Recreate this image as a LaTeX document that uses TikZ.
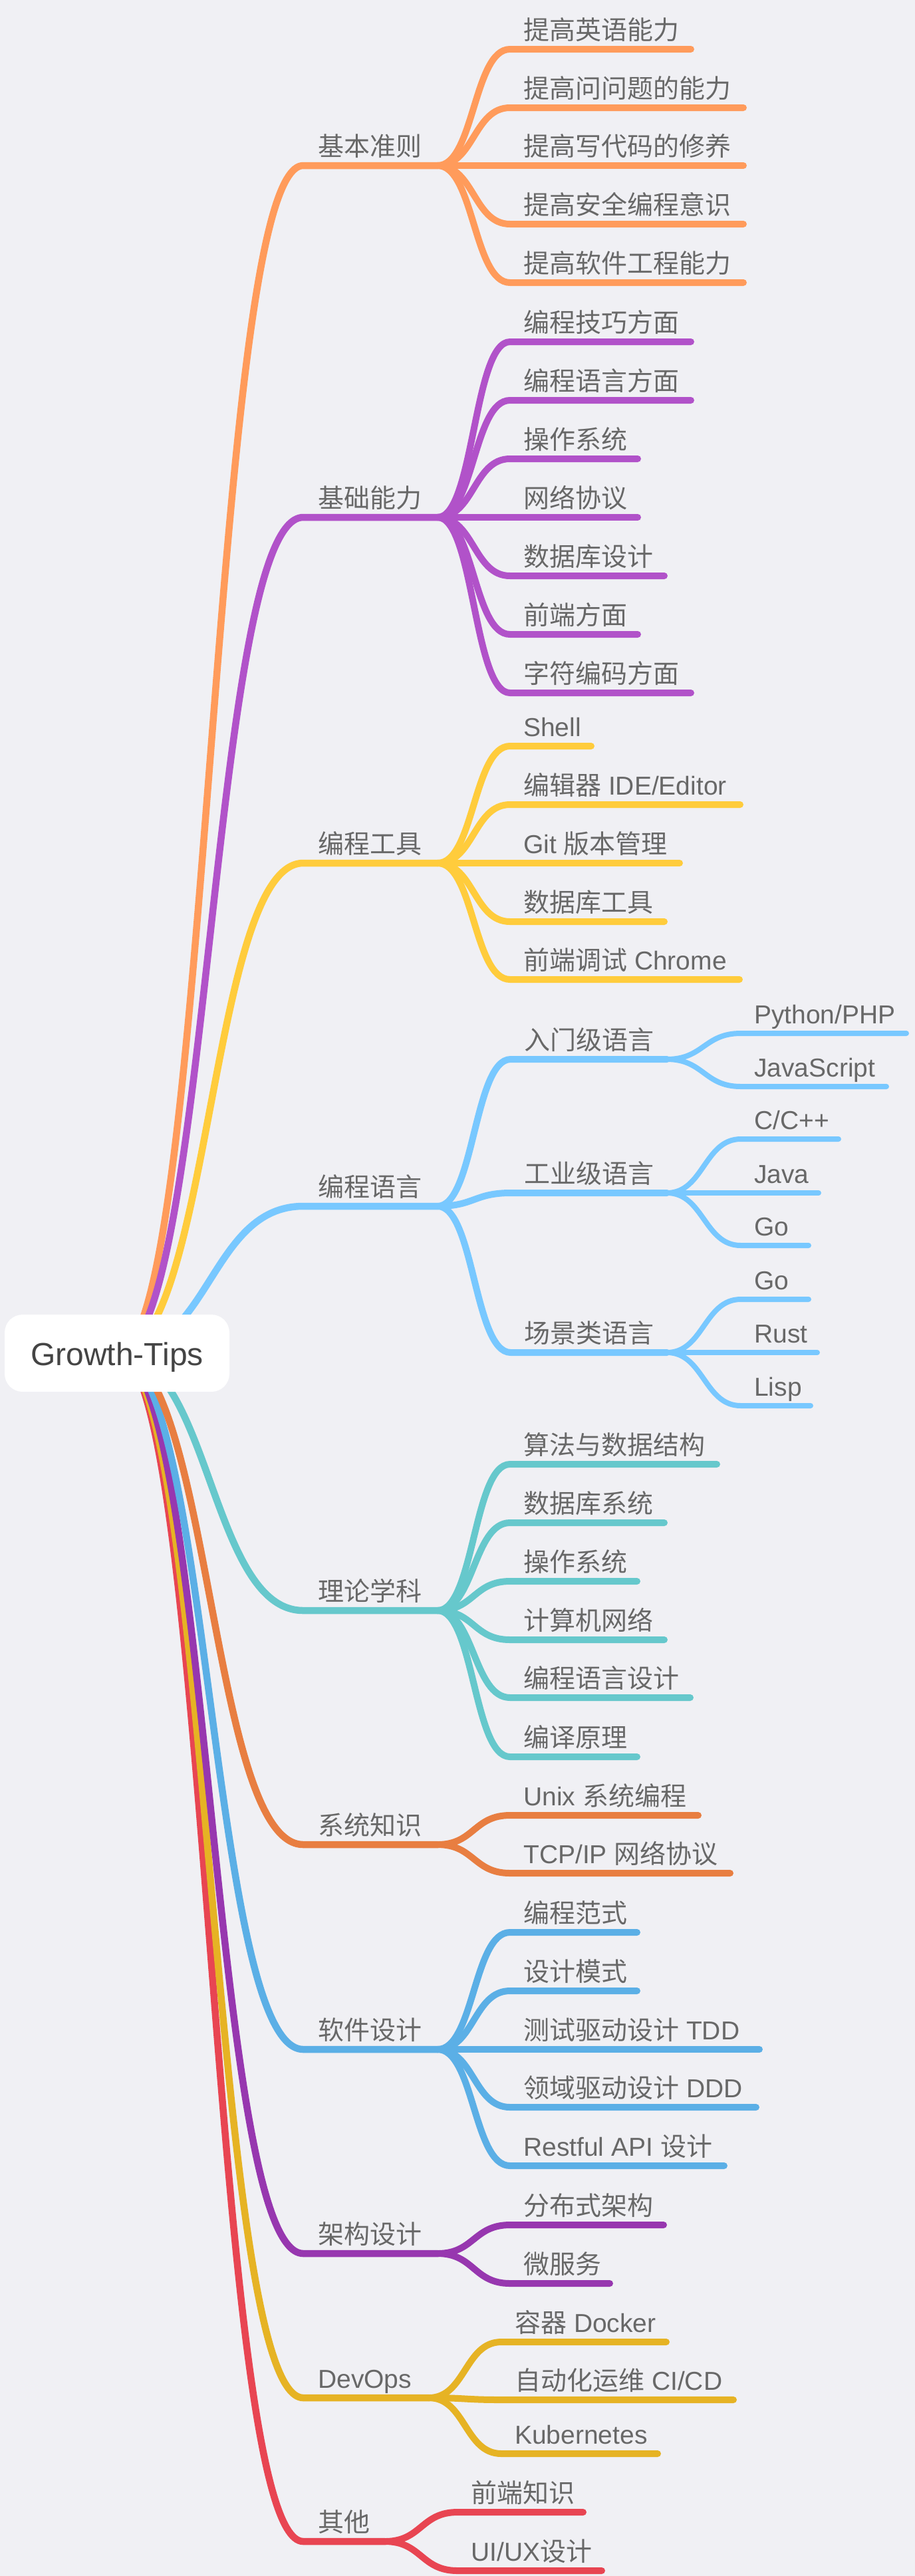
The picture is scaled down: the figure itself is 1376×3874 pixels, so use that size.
\documentclass[tikz,border=0pt]{standalone}
\usepackage{fontspec}
\setmainfont{Liberation Sans}
\newfontfamily\cjkfont{Noto Sans CJK SC}
\newcommand{\zh}[1]{{\cjkfont #1}}
\newcommand{\lblfont}{\fontsize{39pt}{47pt}\selectfont}
\newcommand{\rootfont}{\fontsize{48pt}{58pt}\selectfont}
\definecolor{bg}{HTML}{F0F0F4}
\definecolor{txt}{HTML}{686868}
\definecolor{roottxt}{HTML}{444444}
\definecolor{c0}{HTML}{FF9B5B}
\definecolor{c1}{HTML}{B152C9}
\definecolor{c2}{HTML}{FFCC3C}
\definecolor{c3}{HTML}{78C8FF}
\definecolor{c4}{HTML}{66C8CC}
\definecolor{c5}{HTML}{E87E41}
\definecolor{c6}{HTML}{5BAFE6}
\definecolor{c7}{HTML}{9737AF}
\definecolor{c8}{HTML}{E6B324}
\definecolor{c9}{HTML}{E84552}
\tikzset{
  branch/.style={line width=10.5pt, line cap=round, line join=round},
  twig/.style={line width=10pt, line cap=round, line join=round},
  sprig/.style={line width=8pt, line cap=round, line join=round},
  lbl/.style={anchor=base west, inner sep=0pt, text=txt, font=\lblfont},
  rootbox/.style={fill=white, rounded corners=27pt, minimum width=338pt, minimum height=116pt,
    inner sep=0pt, text=roottxt, font=\rootfont, text height=36pt, text depth=0pt},
}
% main branch: #1 name, #2 colour, #3 y, #4 right end x, #5 text
\newcommand\mmmain[5]{%
  \coordinate (#1L) at (456,#3);
  \coordinate (#1R) at (#4,#3);
  \draw[branch,#2] (rootc) .. controls +(140,0) and +(-140,0) .. (#1L) -- (#1R);
  \node[lbl] (#1) at (478,#3-15) {#5};
}
% child: #1 name, #2 style, #3 parent name, #4 line start x, #5 y, #6 visible right end x, #7 text
\newcommand\mmchild[7]{%
  \coordinate (#1L) at (#4,#5);
  \coordinate (#1R) at (#6-5,#5);
  \draw[#2] (#3R) .. controls +(55,0) and +(-55,0) .. (#1L) -- (#1R);
  \node[lbl] (#1) at (#4+20,#5-15) {#7};
}
\begin{document}
\begin{tikzpicture}[x=1pt,y=-1pt]
\useasboundingbox (0,0) rectangle (1376,3874);
\fill[bg] (0,0) rectangle (1376,3874);
\coordinate (rootc) at (176,2035);

% 基本准则
\mmmain{a}{c0}{249}{658}{\zh{基本准则}}
\mmchild{a1}{twig,c0}{a}{767}{74}{1044}{\zh{提高英语能力}}
\mmchild{a2}{twig,c0}{a}{767}{162}{1123}{\zh{提高问问题的能力}}
\mmchild{a3}{twig,c0}{a}{767}{249}{1123}{\zh{提高写代码的修养}}
\mmchild{a4}{twig,c0}{a}{767}{337}{1123}{\zh{提高安全编程意识}}
\mmchild{a5}{twig,c0}{a}{767}{425}{1123}{\zh{提高软件工程能力}}

% 基础能力
\mmmain{b}{c1}{778}{658}{\zh{基础能力}}
\mmchild{b1}{twig,c1}{b}{767}{514}{1044}{\zh{编程技巧方面}}
\mmchild{b2}{twig,c1}{b}{767}{602}{1044}{\zh{编程语言方面}}
\mmchild{b3}{twig,c1}{b}{767}{690}{964}{\zh{操作系统}}
\mmchild{b4}{twig,c1}{b}{767}{778}{964}{\zh{网络协议}}
\mmchild{b5}{twig,c1}{b}{767}{866}{1004}{\zh{数据库设计}}
\mmchild{b6}{twig,c1}{b}{767}{954}{964}{\zh{前端方面}}
\mmchild{b7}{twig,c1}{b}{767}{1042}{1044}{\zh{字符编码方面}}

% 编程工具
\mmmain{c}{c2}{1298}{658}{\zh{编程工具}}
\mmchild{c1n}{twig,c2}{c}{767}{1122}{894}{Shell}
\mmchild{c2n}{twig,c2}{c}{767}{1210}{1118}{\zh{编辑器} IDE/Editor}
\mmchild{c3n}{twig,c2}{c}{767}{1298}{1027}{Git \zh{版本管理}}
\mmchild{c4n}{twig,c2}{c}{767}{1386}{1004}{\zh{数据库工具}}
\mmchild{c5n}{twig,c2}{c}{767}{1473}{1117}{\zh{前端调试} Chrome}

% 编程语言
\mmmain{d}{c3}{1814}{658}{\zh{编程语言}}
\mmchild{d1}{twig,c3}{d}{768}{1593}{1008}{\zh{入门级语言}}
\mmchild{d11}{sprig,c3}{d1}{1114}{1554}{1368}{Python/PHP}
\mmchild{d12}{sprig,c3}{d1}{1114}{1634}{1338}{JavaScript}
\mmchild{d2}{twig,c3}{d}{768}{1794}{1008}{\zh{工业级语言}}
\mmchild{d21}{sprig,c3}{d2}{1114}{1713}{1266}{C/C++}
\mmchild{d22}{sprig,c3}{d2}{1114}{1794}{1236}{Java}
\mmchild{d23}{sprig,c3}{d2}{1114}{1873}{1221}{Go}
\mmchild{d3}{twig,c3}{d}{768}{2034}{1008}{\zh{场景类语言}}
\mmchild{d31}{sprig,c3}{d3}{1114}{1954}{1221}{Go}
\mmchild{d32}{sprig,c3}{d3}{1114}{2034}{1234}{Rust}
\mmchild{d33}{sprig,c3}{d3}{1114}{2114}{1224}{Lisp}

% 其他
\mmmain{j}{c9}{3822}{579}{\zh{其他}}
\mmchild{j1}{twig,c9}{j}{688}{3778}{882}{\zh{前端知识}}
\mmchild{j2}{twig,c9}{j}{688}{3866}{910}{UI/UX\zh{设计}}

% DevOps
\mmmain{i}{c8}{3606}{645}{DevOps}
\mmchild{i1}{twig,c8}{i}{754}{3522}{1007}{\zh{容器} Docker}
\mmchild{i2}{twig,c8}{i}{754}{3609}{1108}{\zh{自动化运维} CI/CD}
\mmchild{i3}{twig,c8}{i}{754}{3690}{994}{Kubernetes}

% 架构设计
\mmmain{h}{c7}{3389}{658}{\zh{架构设计}}
\mmchild{h1}{twig,c7}{h}{767}{3346}{1003}{\zh{分布式架构}}
\mmchild{h2}{twig,c7}{h}{767}{3434}{922}{\zh{微服务}}

% 软件设计
\mmmain{g}{c6}{3082}{658}{\zh{软件设计}}
\mmchild{g1}{twig,c6}{g}{767}{2906}{963}{\zh{编程范式}}
\mmchild{g2}{twig,c6}{g}{767}{2994}{963}{\zh{设计模式}}
\mmchild{g3}{twig,c6}{g}{767}{3082}{1147}{\zh{测试驱动设计} TDD}
\mmchild{g4}{twig,c6}{g}{767}{3169}{1142}{\zh{领域驱动设计} DDD}
\mmchild{g5}{twig,c6}{g}{767}{3257}{1094}{Restful API \zh{设计}}

% 系统知识
\mmmain{f}{c5}{2774}{658}{\zh{系统知识}}
\mmchild{f1}{twig,c5}{f}{767}{2730}{1055}{Unix \zh{系统编程}}
\mmchild{f2}{twig,c5}{f}{767}{2817}{1103}{TCP/IP \zh{网络协议}}

% 理论学科
\mmmain{e}{c4}{2422}{658}{\zh{理论学科}}
\mmchild{e1}{twig,c4}{e}{767}{2202}{1083}{\zh{算法与数据结构}}
\mmchild{e2}{twig,c4}{e}{767}{2290}{1004}{\zh{数据库系统}}
\mmchild{e3}{twig,c4}{e}{767}{2378}{963}{\zh{操作系统}}
\mmchild{e4}{twig,c4}{e}{767}{2466}{1004}{\zh{计算机网络}}
\mmchild{e5}{twig,c4}{e}{767}{2553}{1043}{\zh{编程语言设计}}
\mmchild{e6}{twig,c4}{e}{767}{2642}{963}{\zh{编译原理}}

% root
\node[rootbox] (root) at (rootc) {Growth-Tips};
\end{tikzpicture}
\end{document}
